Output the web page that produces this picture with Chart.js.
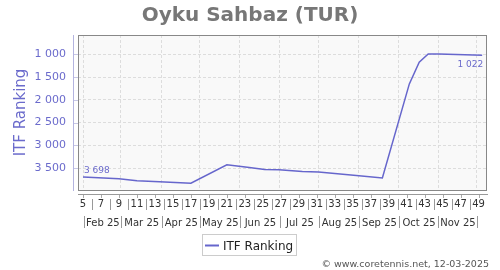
<!DOCTYPE html>
<html>
<head>
<meta charset="utf-8">
<script src="https://cdn.jsdelivr.net/npm/chart.js@4.4.1/dist/chart.umd.min.js"></script>
<style>
html,body{margin:0;padding:0;background:#fff;}
#wrap{width:500px;height:270px;position:relative;}
</style>
</head>
<body>
<div id="wrap"><canvas id="c" width="500" height="270"></canvas></div>
<script>
// ---- data ----
const titleText = 'Oyku Sahbaz (TUR)';
const seriesName = 'ITF Ranking';
const footerText = '\u00A9 www.coretennis.net, 12-03-2025';
const weeks   = [5, 9, 11, 13.5, 17, 21, 23.5, 25.2, 26.8, 29.4, 31.2, 35.7, 38.3, 41.3, 42.4, 43.4, 44.6, 49.4];
const ranking = [3698, 3735, 3780, 3800, 3833, 3428, 3487, 3530, 3537, 3575, 3588, 3669, 3719, 1651, 1175, 995, 995, 1022];
const weekTicks = [5,7,9,11,13,15,17,19,21,23,25,27,29,31,33,35,37,39,41,43,45,47,49];
const weekSeparators = [6,8,10,12,14,16,18,20,22,24,26,28,30,32,34,36,38,40,42,44,46,48];
const monthEdges = [5.1, 9.2, 13.75, 18.0, 22.45, 26.9, 31.25, 35.7, 40.15, 44.5, 48.8];
const monthLabels = ['Feb 25','Mar 25','Apr 25','May 25','Jun 25','Jul 25','Aug 25','Sep 25','Oct 25','Nov 25'];
const yTicks = [1000, 1500, 2000, 2500, 3000, 3500];

const FONT = "'DejaVu Sans', 'Liberation Sans', sans-serif";
const PURPLE = '#6b6bcc';
const LINE = '#6666cc';
const fmt = v => String(v).replace(/\B(?=(\d{3})+(?!\d))/g, ' ');

const extras = {
  id: 'extras',
  beforeDraw(chart) {
    const {ctx, chartArea: a} = chart;
    ctx.save();
    ctx.fillStyle = '#ffffff';
    ctx.fillRect(0, 0, chart.width, chart.height);
    ctx.fillStyle = '#f9f9f9';
    ctx.fillRect(a.left, a.top, a.right - a.left, a.bottom - a.top);
    ctx.restore();
  },
  afterDatasetsDraw(chart) {
    const {ctx} = chart;
    const meta = chart.getDatasetMeta(0);
    const p0 = meta.data[0], pN = meta.data[meta.data.length - 1];
    ctx.save();
    ctx.font = '9px ' + FONT;
    ctx.fillStyle = PURPLE;
    ctx.textBaseline = 'alphabetic';
    ctx.textAlign = 'left';
    ctx.fillText(fmt(ranking[0]), p0.x + 1, p0.y - 4.5);
    ctx.textAlign = 'right';
    ctx.fillText(fmt(ranking[ranking.length - 1]), pN.x + 1, pN.y + 12);
    ctx.restore();
  },
  afterDraw(chart) {
    const {ctx, chartArea: a, scales} = chart;
    const xs = scales.x;
    ctx.save();
    // plot border
    ctx.strokeStyle = '#888';
    ctx.lineWidth = 1;
    ctx.strokeRect(a.left + 0.5, a.top + 0.5, a.right - a.left - 1, a.bottom - a.top);
    // y axis line
    ctx.strokeStyle = '#b4b4e0';
    ctx.beginPath();
    ctx.moveTo(a.left - 4.5, a.top);
    ctx.lineTo(a.left - 4.5, a.bottom + 1);
    ctx.stroke();
    // y minor ticks
    ctx.strokeStyle = '#c8c8e6';
    yTicks.forEach(v => {
      const y = Math.round(scales.y.getPixelForValue(v)) + 0.5;
      ctx.beginPath(); ctx.moveTo(a.left - 4, y); ctx.lineTo(a.left, y); ctx.stroke();
    });
    // x axis line
    ctx.strokeStyle = '#999';
    ctx.beginPath();
    ctx.moveTo(a.left, a.bottom + 4.5);
    ctx.lineTo(a.right + 1, a.bottom + 4.5);
    ctx.stroke();
    // small ticks under x axis
    ctx.strokeStyle = '#aaa';
    weekTicks.forEach(v => {
      const x = Math.round(xs.getPixelForValue(v)) + 0.5;
      ctx.beginPath(); ctx.moveTo(x, a.bottom + 5); ctx.lineTo(x, a.bottom + 8); ctx.stroke();
    });
    // week separators
    ctx.strokeStyle = '#999';
    weekSeparators.forEach(v => {
      const x = Math.round(xs.getPixelForValue(v)) + 0.5;
      ctx.beginPath(); ctx.moveTo(x, a.bottom + 9); ctx.lineTo(x, a.bottom + 20); ctx.stroke();
    });
    // month separators and labels
    monthEdges.forEach(v => {
      const x = Math.round(xs.getPixelForValue(v)) + 0.5;
      ctx.beginPath(); ctx.moveTo(x, a.bottom + 26); ctx.lineTo(x, a.bottom + 38); ctx.stroke();
    });
    ctx.fillStyle = '#333';
    ctx.font = '10px ' + FONT;
    ctx.textAlign = 'center';
    ctx.textBaseline = 'alphabetic';
    monthLabels.forEach((m, i) => {
      const x = (xs.getPixelForValue(monthEdges[i]) + xs.getPixelForValue(monthEdges[i + 1])) / 2;
      ctx.fillText(m, x + 0.5, a.bottom + 35.5);
    });
    // title
    ctx.fillStyle = '#777';
    ctx.font = 'bold 20px ' + FONT;
    ctx.fillText(titleText, 250, 20.5);
    // legend
    ctx.strokeStyle = '#cccccc';
    ctx.strokeRect(202.5, 234.5, 94, 21);
    ctx.strokeStyle = LINE;
    ctx.lineWidth = 2;
    ctx.beginPath(); ctx.moveTo(205, 245.5); ctx.lineTo(219, 245.5); ctx.stroke();
    ctx.fillStyle = '#222';
    ctx.font = '12px ' + FONT;
    ctx.textAlign = 'left';
    ctx.fillText(seriesName, 223, 250);
    // footer
    ctx.fillStyle = '#555';
    ctx.font = '9.5px ' + FONT;
    ctx.textAlign = 'right';
    ctx.fillText(footerText, 489, 266.5);
    ctx.restore();
  }
};

new Chart(document.getElementById('c'), {
  type: 'line',
  data: {
    datasets: [{
      label: seriesName,
      data: weeks.map((w, i) => ({x: w, y: ranking[i]})),
      borderColor: LINE,
      backgroundColor: LINE,
      borderWidth: 1.5,
      pointRadius: 0,
      tension: 0,
      fill: false
    }]
  },
  options: {
    responsive: false,
    animation: false,
    devicePixelRatio: 1,
    layout: {padding: {left: 0, top: 35, right: 13, bottom: 0}},
    plugins: {legend: {display: false}, title: {display: false}, tooltip: {enabled: false}},
    scales: {
      x: {
        type: 'linear', position: 'bottom', min: 4.44, max: 49.94, weight: 0,
        grid: {display: false, drawTicks: false},
        border: {display: false},
        ticks: {autoSkip: false, maxRotation: 0, padding: 8, color: '#333', font: {family: FONT, size: 10}},
        afterBuildTicks: s => { s.ticks = weekTicks.map(v => ({value: v})); },
        afterFit: s => { s.height = 80; }
      },
      x2: {
        type: 'linear', position: 'bottom', min: 4.44, max: 49.94, weight: 1,
        grid: {color: '#dddddd', drawTicks: false, tickLength: 0},
        border: {display: false, dash: [3, 2]},
        ticks: {display: false},
        afterBuildTicks: s => { s.ticks = monthEdges.map(v => ({value: v})); },
        afterFit: s => { s.height = 0; }
      },
      y: {
        type: 'linear', position: 'left', reverse: true, min: 577, max: 3982,
        grid: {color: '#dddddd', drawTicks: false},
        border: {display: false, dash: [3, 2]},
        ticks: {padding: 12, color: PURPLE, font: {family: FONT, size: 11}, callback: v => fmt(v)},
        afterBuildTicks: s => { s.ticks = yTicks.map(v => ({value: v})); },
        afterFit: s => { s.width = 78; },
        title: {display: true, text: seriesName, color: PURPLE, font: {family: FONT, size: 15}, padding: {top: 12, bottom: 0}}
      }
    }
  },
  plugins: [extras]
});
</script>
</body>
</html>
